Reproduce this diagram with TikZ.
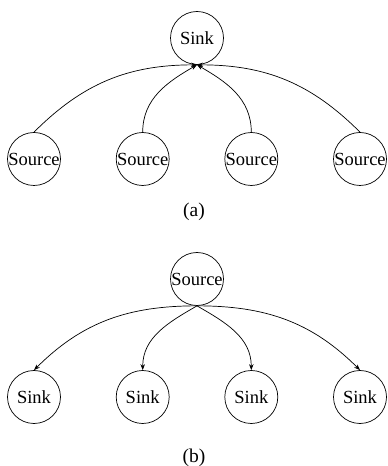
\documentclass[tikz,border=0pt]{standalone}
\usepackage{fontspec}
\setmainfont{Liberation Serif}
\usetikzlibrary{arrows.meta}
\begin{document}
\begin{tikzpicture}[x=1pt,y=1pt,
  vtx/.style={circle,draw,line width=0.7pt,minimum size=53pt,inner sep=0pt,font=\fontsize{18.5}{20}\selectfont},
  captext/.style={font=\fontsize{19.5}{22}\selectfont},
  conn/.style={line width=0.7pt,-{Stealth[length=6pt,width=4.5pt]}}]
\useasboundingbox (0,0) rectangle (388,466);
% (a)
\node[vtx] (ak) at (197,428) {Sink};
\node[vtx] (as1) at (34,307) {Source};
\node[vtx] (as2) at (142.7,307) {Source};
\node[vtx] (as3) at (251.3,307) {Source};
\node[vtx] (as4) at (360,307) {Source};
\draw[conn] (as1.north) to[out=45,in=180] (ak.south);
\draw[conn] (as2.north) to[out=90,in=210] (ak.south);
\draw[conn] (as3.north) to[out=90,in=330] (ak.south);
\draw[conn] (as4.north) to[out=135,in=0] (ak.south);
\node[captext] (capa) at (194,254) {(a)};
% (b)
\node[vtx] (bs) at (197,187) {Source};
\node[vtx] (bk1) at (34,69) {Sink};
\node[vtx] (bk2) at (142.7,69) {Sink};
\node[vtx] (bk3) at (251.3,69) {Sink};
\node[vtx] (bk4) at (360,69) {Sink};
\draw[conn] (bs.south) to[out=180,in=45] (bk1.north);
\draw[conn] (bs.south) to[out=210,in=90] (bk2.north);
\draw[conn] (bs.south) to[out=330,in=90] (bk3.north);
\draw[conn] (bs.south) to[out=0,in=135] (bk4.north);
\node[captext] (capb) at (194,8) {(b)};
\end{tikzpicture}
\end{document}
